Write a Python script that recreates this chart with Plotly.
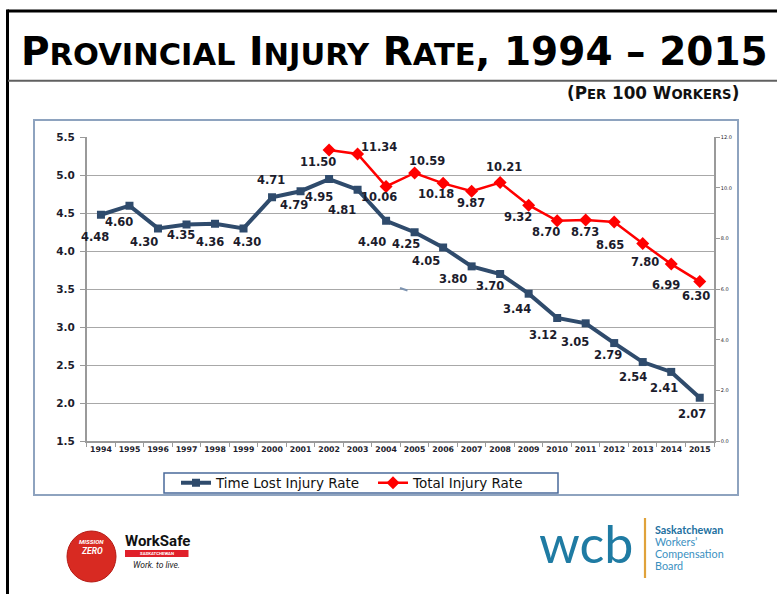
import plotly.graph_objects as go

# ---------------- data ----------------
years = ["1994", "1995", "1996", "1997", "1998", "1999", "2000", "2001", "2002", "2003", "2004",
         "2005", "2006", "2007", "2008", "2009", "2010", "2011", "2012", "2013", "2014", "2015"]
time_lost_rate = [4.48, 4.60, 4.30, 4.35, 4.36, 4.30, 4.71, 4.79, 4.95, 4.81, 4.40,
                  4.25, 4.05, 3.80, 3.70, 3.44, 3.12, 3.05, 2.79, 2.54, 2.41, 2.07]
total_years = ["2002", "2003", "2004", "2005", "2006", "2007", "2008", "2009", "2010",
               "2011", "2012", "2013", "2014", "2015"]
total_rate = [11.50, 11.34, 10.06, 10.59, 10.18, 9.87, 10.21, 9.32, 8.70,
              8.73, 8.65, 7.80, 6.99, 6.30]
left_ticks = [1.5, 2.0, 2.5, 3.0, 3.5, 4.0, 4.5, 5.0, 5.5]
right_ticks = [0, 2, 4, 6, 8, 10, 12]

# label offsets (screen px: dx right, dy down) -- styling only
blue_off = [(-6, 22), (-10, 16), (-14, 14), (-6, 10), (-5, 18), (3, 14), (-1, -17), (-7, 14),
            (-10, 18), (-16, 20), (-14, 21), (-9, 12), (-17, 14), (-19, 13), (-10, 12),
            (-12, 15), (-14, 17), (-11, 19), (-6, 12), (-10, 15), (-7, 16), (-8, 16)]
red_off = [(-11, 12), (21, -7), (-7, 11), (12, -12), (-7, 11), (-1, 12), (4, -16), (-11, 12),
           (-11, 11), (-1, 12), (-4, 23), (2, 18), (-5, 21), (-4, 14)]

W, H = 777, 594
def px(x): return x / W
def py(y): return 1 - y / H

BLUE = "#2f4b6c"
RED = "#ff0000"
LBL = "#1c1c2c"
FONT = "DejaVu Sans"

fig = go.Figure()
fig.add_trace(go.Scatter(
    x=years, y=time_lost_rate, name="Time Lost Injury Rate", mode="lines+markers",
    line=dict(color=BLUE, width=4), marker=dict(symbol="square", size=8, color=BLUE),
    yaxis="y"))
fig.add_trace(go.Scatter(
    x=total_years, y=total_rate, name="Total Injury Rate", mode="lines+markers",
    line=dict(color=RED, width=2.5), marker=dict(symbol="diamond", size=10, color=RED),
    yaxis="y2"))

ann = []
lblfont = dict(family=FONT, size=11.5, color=LBL, weight="bold")
for yr, v, (dx, dy) in zip(years, time_lost_rate, blue_off):
    ann.append(dict(x=years.index(yr), y=v, xref="x", yref="y", text=f"{v:.2f}", showarrow=False,
                    xshift=dx, yshift=-dy, font=lblfont))
for yr, v, (dx, dy) in zip(total_years, total_rate, red_off):
    ann.append(dict(x=years.index(yr), y=v, xref="x", yref="y2", text=f"{v:.2f}", showarrow=False,
                    xshift=dx, yshift=-dy, font=lblfont))

# Title and subtitle (small caps emulation)
sc = '<span style="font-size:30.5px">'
ann.append(dict(x=px(19), y=py(51), xref="paper", yref="paper", xanchor="left", yanchor="middle",
                showarrow=False,
                text=f'P{sc}ROVINCIAL</span> I{sc}NJURY</span> R{sc}ATE</span>, 1994 \u2013 2015',
                font=dict(family=FONT, size=39, color="#000000", weight="bold")))
sc2 = '<span style="font-size:13.2px">'
ann.append(dict(x=px(741), y=py(93), xref="paper", yref="paper", xanchor="right", yanchor="middle",
                showarrow=False,
                text=f'(P{sc2}ER</span> 100 W{sc2}ORKERS</span>)',
                font=dict(family=FONT, size=16.8, color="#111111", weight="bold")))

# logos text
logo_ann = [
    dict(x=px(91), y=py(542), text="<i>MISSION</i>", font=dict(family="Roboto", size=6.2, color="white", weight="bold")),
    dict(x=px(92), y=py(551), text="<i>ZERO</i>", font=dict(family="Roboto", size=8.5, color="white", weight="bold")),
    dict(x=px(157), y=py(540.5), text="WorkSafe", font=dict(family="Roboto", size=15, color="#111111", weight="bold")),
    dict(x=px(156.8), y=py(553.6), text="SASKATCHEWAN", font=dict(family="Roboto", size=4.3, color="white", weight="bold")),
    dict(x=px(156), y=py(564.5), text="<i>Work. to live.</i>", font=dict(family="Roboto", size=8.5, color="#222222")),
    dict(x=px(538), y=py(543), xanchor="left", text="wcb", font=dict(family="Lato", size=52, color="#1f7ba3")),
    dict(x=px(654), y=py(529.5), xanchor="left", text="Saskatchewan", font=dict(family="Lato", size=10.8, color="#22709f", weight="bold")),
    dict(x=px(654), y=py(541.5), xanchor="left", text="Workers\u2019", font=dict(family="Lato", size=10.8, color="#3a90bf")),
    dict(x=px(654), y=py(553.5), xanchor="left", text="Compensation", font=dict(family="Lato", size=10.8, color="#3a90bf")),
    dict(x=px(654), y=py(565.5), xanchor="left", text="Board", font=dict(family="Lato", size=10.8, color="#3a90bf")),
]
for a in logo_ann:
    a["xref"] = "paper"; a["yref"] = "paper"; a["showarrow"] = False
    a.setdefault("xanchor", "center")
    a.setdefault("yanchor", "middle")
    a["borderpad"] = 0
ann += logo_ann

shapes = [
    # page frame
    dict(type="line", xref="paper", yref="paper", x0=px(7.5), x1=1, y0=py(11), y1=py(11), line=dict(color="#000000", width=3)),
    dict(type="line", xref="paper", yref="paper", x0=px(7.5), x1=px(7.5), y0=py(9.5), y1=0, line=dict(color="#000000", width=3)),
    dict(type="line", xref="paper", yref="paper", x0=px(8), x1=1, y0=py(80.7), y1=py(80.7), line=dict(color="#606060", width=2)),
    # chart box
    dict(type="rect", xref="paper", yref="paper", x0=px(34), x1=px(738), y0=py(120), y1=py(495), line=dict(color="#8ea3bf", width=2)),
    # legend box
    dict(type="rect", xref="paper", yref="paper", x0=px(164), x1=px(558), y0=py(473), y1=py(493), line=dict(color="#4a6a9a", width=1.5)),
    # small smudge
    dict(type="line", xref="paper", yref="paper", x0=px(400), x1=px(407.5), y0=py(288), y1=py(290.5), line=dict(color="#7d93b0", width=2)),
    # logos
    dict(type="circle", xref="paper", yref="paper", x0=px(67), x1=px(116), y0=py(531), y1=py(582), fillcolor="#d82a22", line=dict(color="#b51a14", width=1)),
    dict(type="rect", xref="paper", yref="paper", x0=px(125), x1=px(188.5), y0=py(550), y1=py(557), fillcolor="#e0202a", line=dict(width=0)),
    dict(type="line", xref="paper", yref="paper", x0=px(645), x1=px(645), y0=py(518), y1=py(578), line=dict(color="#e0a23a", width=2.2)),
]

fig.update_layout(
    width=W, height=H, autosize=False,
    margin=dict(l=0, r=0, t=0, b=0),
    paper_bgcolor="white", plot_bgcolor="white",
    showlegend=True,
    legend=dict(orientation="h", x=px(176), y=py(483), xanchor="left", yanchor="middle",
                bgcolor="rgba(0,0,0,0)", borderwidth=0, entrywidth=152, entrywidthmode="pixels",
                font=dict(family=FONT, size=13.5, color="#111111")),
    xaxis=dict(type="category", domain=[px(86.7), px(714)], range=[-0.5, 21.5],
               showline=True, linecolor="#9a9a9a", linewidth=1.5, showgrid=False,
               ticks="outside", tickson="boundaries", ticklen=4, tickcolor="#9a9a9a", tickwidth=1,
               tickangle=0,
               tickfont=dict(family=FONT, size=7.8, color=LBL, weight="bold"), automargin=False,
               fixedrange=True),
    yaxis=dict(domain=[py(441), py(137.3)], range=[1.5, 5.5], tickvals=left_ticks, tickformat=".1f",
               showline=True, linecolor="#9a9a9a", linewidth=1.5, showgrid=True, gridcolor="#a8a8a8", gridwidth=1.3,
               zeroline=False, ticks="outside", ticklen=5, tickcolor="#9a9a9a", ticklabelstandoff=3,
               tickfont=dict(family=FONT, size=10.5, color=LBL, weight="bold"), automargin=False),
    yaxis2=dict(overlaying="y", side="right", anchor="x", range=[0, 12], tickvals=right_ticks, tickformat=".1f",
                showline=True, linecolor="#9a9a9a", linewidth=1.5, showgrid=False, zeroline=False,
                ticks="outside", ticklen=4, tickcolor="#9a9a9a",
                tickfont=dict(family=FONT, size=5, color=LBL), automargin=False),
    annotations=ann,
    shapes=shapes,
)

fig.write_html("out.html", config={"displayModeBar": False},
               post_script="document.body.style.margin='0';document.body.style.overflow='hidden';")
